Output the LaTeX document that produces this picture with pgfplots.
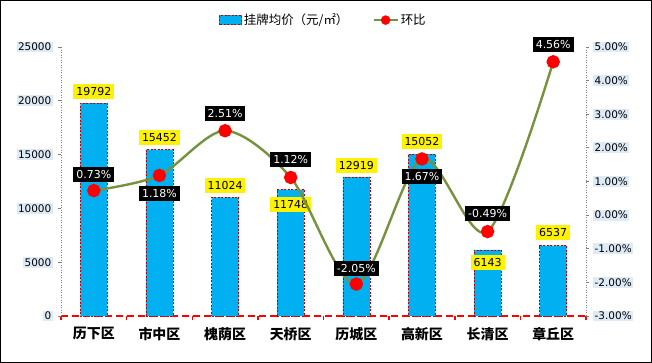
\documentclass[border=0pt]{standalone}
\usepackage{pgfplots}
\pgfplotsset{compat=1.18}
\usepackage{pgfplotstable}
\usepackage{fontspec}
\setmainfont{DejaVu Sans}
\newfontfamily\cjk{Noto Sans CJK SC}
\definecolor{barblue}{RGB}{0,176,240}
\definecolor{linegreen}{RGB}{118,146,60}
\definecolor{tickbg}{RGB}{222,235,247}
\definecolor{dashred}{RGB}{192,0,0}

\pgfplotstableread{
x y lab off
0 19792 19792 12
1 15452 15452 12
2 11024 11024 12
3 11748 11748 -15
4 12919 12919 11
5 15052 15052 13
6 6143 6143 -13
7 6537 6537 13
}\bars

\pgfplotstableread{
x y lab off
0 0.73 0.73 16
1 1.18 1.18 -18
2 2.51 2.51 17.5
3 1.12 1.12 17.5
4 -2.05 -2.05 16
5 1.67 1.67 -18
6 -0.49 -0.49 18
7 4.56 4.56 17
}\hb

\begin{document}
\begin{tikzpicture}
\useasboundingbox (0,0) rectangle (652bp,363bp);
\fill[white] (0,0) rectangle (652bp,363bp);
\draw[line width=1.2bp] (0.6bp,0.6bp) rectangle (651.4bp,362.4bp);
\begin{axis}[
  at={(61bp,47bp)}, anchor=south west, scale only axis,
  width=525bp, height=269bp,
  xmin=-0.5, xmax=7.5, ymin=0, ymax=25000,
  ybar, bar width=27bp,
  axis x line=bottom, axis y line=left,
  x axis line style={-, draw=red, line width=2.4bp, dash pattern=on 7bp off 4bp},
  y axis line style={-, draw=gray, line width=0.8bp, dash pattern=on 1bp off 1.5bp},
  xtick={0,1,2,3,4,5,6,7},
  xticklabels={历下区,市中区,槐荫区,天桥区,历城区,高新区,长清区,章丘区},
  minor xtick={-0.5,0.5,1.5,2.5,3.5,4.5,5.5,6.5,7.5},
  major x tick style={draw=none},
  minor x tick style={draw=red, line width=1.5bp},
  minor tick length=4bp, major tick length=3bp,
  tick align=outside,
  scaled y ticks=false,
  y tick style={draw=gray, line width=0.8bp},
  ytick={0,5000,10000,15000,20000,25000},
  yticklabels={0,5000,10000,15000,20000,25000},
  yticklabel style={font=\fontsize{10.5}{12}\selectfont, fill=tickbg, inner sep=1.5bp, xshift=-5bp},
  xticklabel style={font=\cjk\bfseries\fontsize{14}{14}\selectfont, yshift=-5bp},
  clip=false,
]
\addplot[fill=barblue, draw=dashred, dash pattern=on 2bp off 1.5bp, line width=0.6bp,
  nodes near coords, point meta=explicit symbolic,
  visualization depends on={\thisrow{off} \as \myoff},
  nodes near coords style={solid, anchor=center, yshift=\myoff bp, fill=yellow, draw=none, text=black,
    font=\fontsize{11}{12}\selectfont, inner xsep=3bp, inner ysep=3.5bp, text height=8bp, text depth=0bp}]
  table[x=x, y=y, meta=lab]{\bars};
\end{axis}
\begin{axis}[
  at={(61bp,47bp)}, anchor=south west, scale only axis,
  width=525bp, height=269bp,
  xmin=-0.5, xmax=7.5, ymin=-3, ymax=5,
  axis x line=none, axis y line=right,
  y axis line style={-, draw=gray, line width=0.8bp, dash pattern=on 1bp off 1.5bp},
  y tick style={draw=gray, line width=0.8bp},
  major tick length=3bp, tick align=outside,
  ytick={-3,-2,-1,0,1,2,3,4,5},
  yticklabels={-3.00\%,-2.00\%,-1.00\%,0.00\%,1.00\%,2.00\%,3.00\%,4.00\%,5.00\%},
  yticklabel style={font=\fontsize{10.5}{12}\selectfont, fill=tickbg, inner sep=1.5bp, xshift=4bp},
  clip=false,
  legend style={at={(0.5,1.1)}, anchor=center, draw=none, fill=none,
    legend columns=2, font=\cjk\fontsize{12.5}{13}\selectfont,
    /tikz/every even column/.append style={column sep=22bp}},
  legend cell align=left,
]
\addlegendimage{legend image code/.code={\fill[barblue] (0bp,-4.5bp) rectangle (22bp,4.5bp);
  \draw[dashred, dash pattern=on 2bp off 1.5bp, line width=0.6bp] (0bp,-4.5bp) rectangle (22bp,4.5bp);}}
\addlegendentry{挂牌均价（元/㎡）}
\addlegendimage{legend image code/.code={\draw[linegreen, line width=2.4bp] (0bp,0bp) -- (24bp,0bp);
  \fill[red] (12bp,0bp) circle (4.5bp);}}
\addlegendentry{环比}
\addplot[linegreen, line width=2.4bp, smooth, mark=*, mark size=5.5bp,
  mark options={solid, fill=red, draw=red}, forget plot,
  nodes near coords={\pgfplotspointmeta\%}, point meta=explicit symbolic,
  visualization depends on={\thisrow{off} \as \myoff},
  nodes near coords style={solid, anchor=center, yshift=\myoff bp, fill=black, draw=none, text=white,
    font=\fontsize{11}{12}\selectfont, inner xsep=3bp, inner ysep=3.5bp, text height=8bp, text depth=0bp}]
  table[x=x, y=y, meta=lab]{\hb};
\end{axis}
\end{tikzpicture}
\end{document}
